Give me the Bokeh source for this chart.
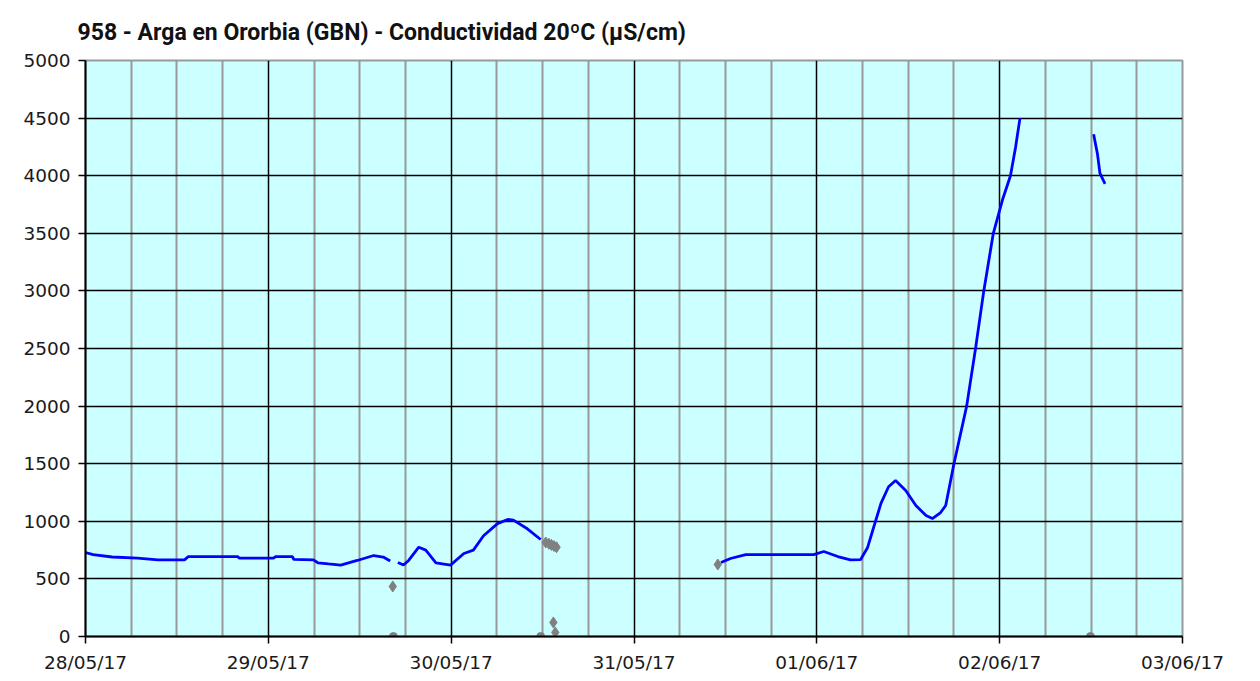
import pandas as pd
from bokeh.plotting import figure
from bokeh.models import FixedTicker, DatetimeTickFormatter, Range1d
from bokeh.embed import file_html
from bokeh.resources import INLINE

TITLE = "958 - Arga en Ororbia (GBN) - Conductividad 20ºC (µS/cm)"

# Blue series (None = gap in record)
line_times = [
    "2017-05-28 00:00", "2017-05-28 01:00", "2017-05-28 03:30", "2017-05-28 06:50",
    "2017-05-28 09:30", "2017-05-28 13:00", "2017-05-28 13:30", "2017-05-28 20:00",
    "2017-05-28 20:10", "2017-05-29 00:40", "2017-05-29 01:00", "2017-05-29 03:10",
    "2017-05-29 03:20", "2017-05-29 05:55", "2017-05-29 06:30", "2017-05-29 07:55",
    "2017-05-29 09:30", "2017-05-29 11:40", "2017-05-29 13:50", "2017-05-29 15:05",
    "2017-05-29 16:00",
    "2017-05-29 16:30",
    "2017-05-29 17:00", "2017-05-29 17:45", "2017-05-29 18:25", "2017-05-29 19:45",
    "2017-05-29 20:40", "2017-05-29 22:00", "2017-05-29 23:55", "2017-05-30 01:40",
    "2017-05-30 02:55", "2017-05-30 04:15", "2017-05-30 06:05", "2017-05-30 07:25",
    "2017-05-30 08:10", "2017-05-30 10:00", "2017-05-30 11:45",
    "2017-05-31 00:00",
    "2017-05-31 11:25", "2017-05-31 12:40", "2017-05-31 14:40", "2017-05-31 23:35",
    "2017-06-01 00:55", "2017-06-01 02:45", "2017-06-01 04:25", "2017-06-01 05:45",
    "2017-06-01 06:40", "2017-06-01 07:20", "2017-06-01 08:25", "2017-06-01 09:25",
    "2017-06-01 10:20", "2017-06-01 11:40", "2017-06-01 13:00", "2017-06-01 14:20",
    "2017-06-01 15:10", "2017-06-01 16:15", "2017-06-01 16:55", "2017-06-01 18:00",
    "2017-06-01 19:40", "2017-06-01 20:50", "2017-06-01 21:55", "2017-06-01 23:10",
    "2017-06-02 00:25", "2017-06-02 01:25", "2017-06-02 02:05", "2017-06-02 02:40",
    "2017-06-02 06:00",
    "2017-06-02 12:20", "2017-06-02 12:50", "2017-06-02 13:10", "2017-06-02 13:50",
]
line_values = [
    729, 710, 690, 680,
    665, 665, 694, 694,
    680, 680, 694, 694,
    670, 665, 640, 630,
    620, 660, 703, 690,
    655,
    None,
    642, 620, 660, 775,
    750, 640, 620, 720,
    750, 875, 980, 1016,
    1010, 935, 842,
    None,
    642, 677, 711, 711,
    738, 694, 665, 668,
    773, 920, 1155, 1300,
    1354, 1267, 1137, 1050,
    1024, 1076, 1137, 1500,
    2000, 2500, 3000, 3500,
    3800, 4000, 4245, 4500,
    None,
    4360, 4190, 4020, 3930,
]

# Grey (invalid) readings
grey_diamond_times = [
    "2017-05-29 16:20", "2017-05-30 12:25", "2017-05-30 12:50", "2017-05-30 13:10",
    "2017-05-30 13:30", "2017-05-30 13:50", "2017-05-30 13:25", "2017-05-30 13:40",
    "2017-05-31 11:00",
]
grey_diamond_values = [434, 816, 805, 795, 785, 775, 122, 35, 625]
grey_zero_times = ["2017-05-29 16:25", "2017-05-30 11:45", "2017-06-02 11:55"]
grey_zero_values = [0, 0, 0]

y_ticks = [0, 500, 1000, 1500, 2000, 2500, 3000, 3500, 4000, 4500, 5000]
day_ticks = ["2017-05-28", "2017-05-29", "2017-05-30", "2017-05-31",
             "2017-06-01", "2017-06-02", "2017-06-03"]


def ms(t):
    return pd.Timestamp(t).timestamp() * 1000.0


day_ms = [ms(d) for d in day_ticks]
six_h = 6 * 3600 * 1000.0
minor_ms = [d + k * six_h for d in day_ms[:-1] for k in (1, 2, 3)]

p = figure(
    width=1252, height=675,
    x_axis_type="datetime",
    x_range=Range1d(day_ms[0], day_ms[-1]),
    y_range=Range1d(y_ticks[0], y_ticks[-1]),
    output_backend="svg", toolbar_location=None,
    min_border_left=85, min_border_right=70, min_border_top=60, min_border_bottom=37,
)
p.background_fill_color = "#CCFFFF"
p.border_fill_color = "#FFFFFF"
p.outline_line_color = "#999999"
p.outline_line_width = 2

p.title.text = TITLE
p.title.text_font = "Roboto"
p.title.text_font_style = "bold"
p.title.text_font_size = "23px"
p.title.text_color = "#111111"
p.title.offset = -8
p.title.standoff = 30

# axes
p.xaxis.ticker = FixedTicker(ticks=day_ms)
p.xaxis.formatter = DatetimeTickFormatter(
    milliseconds="%d/%m/%y", seconds="%d/%m/%y", minsec="%d/%m/%y", minutes="%d/%m/%y",
    hourmin="%d/%m/%y", hours="%d/%m/%y", days="%d/%m/%y", months="%d/%m/%y", years="%d/%m/%y",
)
p.yaxis.ticker = FixedTicker(ticks=y_ticks)
for ax in (p.xaxis[0], p.yaxis[0]):
    ax.axis_line_color = "#000000"
    ax.axis_line_width = 2
    ax.major_tick_line_color = "#000000"
    ax.major_tick_line_width = 1.5
    ax.major_tick_out = 7
    ax.major_tick_in = 0
    ax.minor_tick_line_color = None
    ax.major_label_text_font = "DejaVu Sans"
    ax.major_label_text_font_size = "18.5px"
    ax.major_label_text_color = "#1a1a1a"
    ax.major_label_standoff = 8

# grids
p.xgrid.ticker = FixedTicker(ticks=day_ms[1:-1], minor_ticks=minor_ms)
p.xgrid.grid_line_color = "#000000"
p.xgrid.grid_line_width = 1.5
p.xgrid.minor_grid_line_color = "#999999"
p.xgrid.minor_grid_line_width = 2
p.ygrid.ticker = FixedTicker(ticks=y_ticks[1:-1])
p.ygrid.grid_line_color = "#000000"
p.ygrid.grid_line_width = 1.5

lx = pd.to_datetime(line_times)
ly = [float("nan") if v is None else v for v in line_values]
p.line(lx, ly, line_color="#0000FF", line_width=2.8)

p.scatter(pd.to_datetime(grey_diamond_times), grey_diamond_values, marker="diamond",
          size=11, fill_color="#808080", line_color="#808080")
p.scatter(pd.to_datetime(grey_zero_times), grey_zero_values, marker="circle",
          size=8, fill_color="#808080", line_color="#808080")

open("out.html", "w").write(file_html(p, INLINE))
